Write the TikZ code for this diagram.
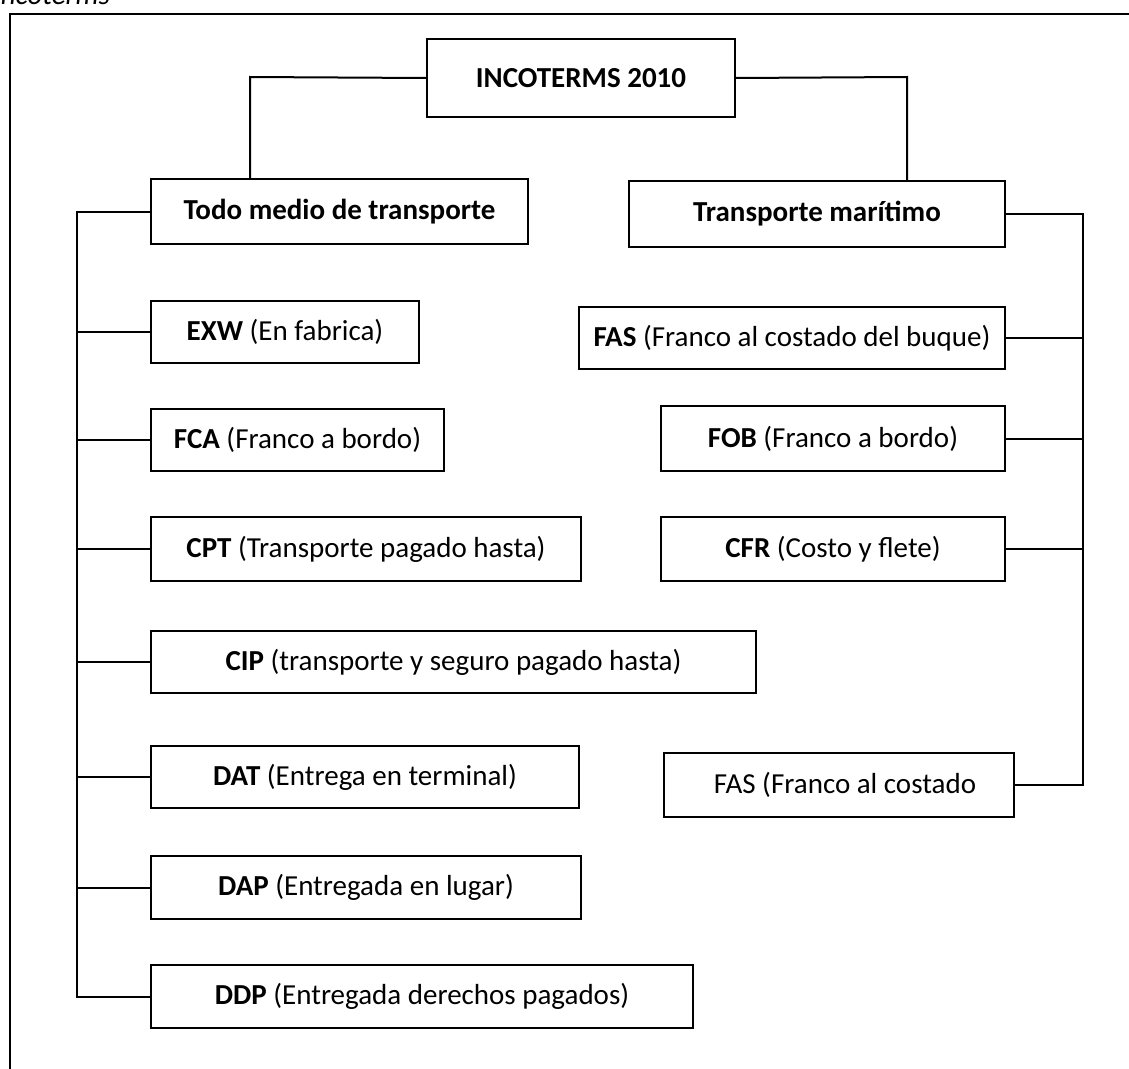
\documentclass[tikz,border=0pt]{standalone}
\usepackage{fontspec}
\setmainfont{Carlito}
\begin{document}
\begin{tikzpicture}[x=1pt,y=-1pt,
  every node/.style={font=\fontsize{29}{34}\selectfont},
  box/.style={draw, line width=2pt, inner sep=0pt, anchor=north west},
  link/.style={line width=2pt},
  frame/.style={line width=2.2pt}]
\useasboundingbox (0,0) rectangle (1129,1068);
\clip (0,0) rectangle (1129,1068);

% caption running off the top edge
\node[anchor=base west, font=\itshape\fontsize{29}{34}\selectfont] (cap) at (-10,5) {Incoterms};

% outer frame
\draw[frame] (10,1080) -- (10,14) -- (1140,14);

% headings
\node[box, minimum width=308pt, minimum height=78pt] (inc) at (426,38) {\textbf{INCOTERMS 2010}};
\node[box, minimum width=377pt, minimum height=65pt] (todo) at (150,178) {\textbf{Todo medio de transporte}};
\node[box, minimum width=376pt, minimum height=66pt] (mar) at (628,180) {\textbf{Transporte marítimo}};

% any mode of transport
\node[box, minimum width=268pt, minimum height=62pt] (exw) at (150,300) {\textbf{EXW} (En fabrica)};
\node[box, minimum width=293pt, minimum height=62pt] (fca) at (150,408) {\textbf{FCA} (Franco a bordo)};
\node[box, minimum width=430pt, minimum height=64pt] (cpt) at (150,516) {\textbf{CPT} (Transporte pagado hasta)};
\node[box, minimum width=605pt, minimum height=62pt] (cip) at (150,630) {\textbf{CIP} (transporte y seguro pagado hasta)};
\node[box, minimum width=428pt, minimum height=62pt] (dat) at (150,745) {\textbf{DAT} (Entrega en terminal)};
\node[box, minimum width=430pt, minimum height=63pt] (dap) at (150,855) {\textbf{DAP} (Entregada en lugar)};
\node[box, minimum width=542pt, minimum height=63pt] (ddp) at (150,964) {\textbf{DDP} (Entregada derechos pagados)};

% sea transport
\node[box, minimum width=426pt, minimum height=62pt] (fas) at (578,306) {\textbf{FAS} (Franco al costado del buque)};
\node[box, minimum width=344pt, minimum height=65pt] (fob) at (660,405) {\textbf{FOB} (Franco a bordo)};
\node[box, minimum width=344pt, minimum height=64pt] (cfr) at (660,516) {\textbf{CFR} (Costo y flete)};
\node[box, minimum width=350pt, minimum height=64pt] (fas2) at (663,752) {\hspace*{12pt}FAS (Franco al costado};

% trunk lines
\coordinate (ta) at (250,77);
\coordinate (tb) at (907,77);
\coordinate (lt) at (77,0);
\coordinate (rt) at (1083,0);

\draw[link] (inc.west) -- (ta) -- (ta |- todo.north);
\draw[link] (inc.east) -- (tb) -- (tb |- mar.north);

\draw[link] (todo.west) -- (todo.west -| lt) -- (ddp.west -| lt) -- (ddp.west);
\foreach \n in {exw,fca,cpt,cip,dat,dap}
  \draw[link] (\n.west -| lt) -- (\n.west);

\draw[link] (mar.east) -- (mar.east -| rt) -- (fas2.east -| rt) -- (fas2.east);
\foreach \n in {fas,fob,cfr}
  \draw[link] (\n.east) -- (\n.east -| rt);
\end{tikzpicture}
\end{document}
